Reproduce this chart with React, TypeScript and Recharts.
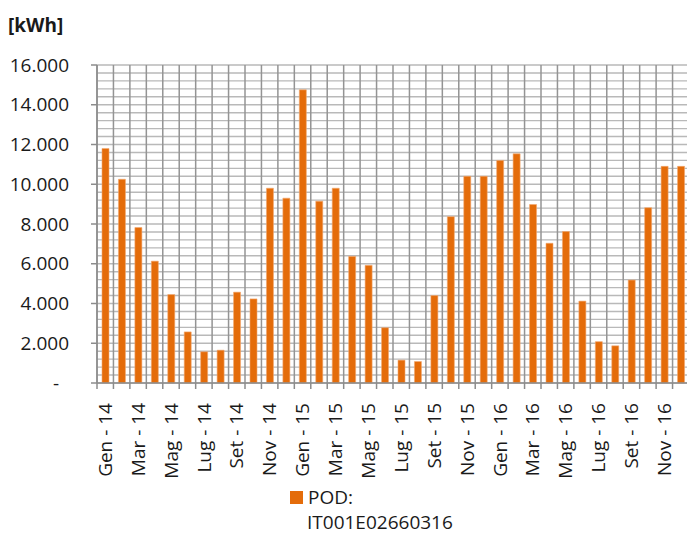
import { BarChart, Bar, XAxis, YAxis, CartesianGrid } from 'recharts';

const monthNames = ['Gen', 'Feb', 'Mar', 'Apr', 'Mag', 'Giu', 'Lug', 'Ago', 'Set', 'Ott', 'Nov', 'Dic'];
const years = ['14', '15', '16'];

const consumption2014 = [11800, 10250, 7820, 6130, 4450, 2570, 1570, 1650, 4570, 4230, 9800, 9300];
const consumption2015 = [14750, 9150, 9800, 6370, 5920, 2780, 1150, 1080, 4400, 8370, 10400, 10400];
const consumption2016 = [11200, 11530, 8980, 7030, 7620, 4120, 2080, 1870, 5180, 8820, 10900, 10900];

const yTicks = [0, 2000, 4000, 6000, 8000, 10000, 12000, 14000, 16000];
const seriesName = 'POD: IT001E02660316';

const allValues = [consumption2014, consumption2015, consumption2016];
const data = years.flatMap((yr, yi) =>
  monthNames.map((m, mi) => ({ month: `${m} - ${yr}`, kwh: allValues[yi][mi] }))
);

// minor horizontal grid every 400 kWh
const gridValues = Array.from({ length: 41 }, (_, i) => i * 400);

const FONT = '"Open Sans", sans-serif';
const TEXT = '#1a1a1a';
const AXIS = '#8c8c8c';
const BAR = '#E46C0A';

const CHART_W = 689;
const CHART_H = 534;
const Y_W = 97;
const X_H = 151;
const PLOT_W = CHART_W - Y_W;

const fmt = (v: number) => (v === 0 ? '-' : v.toLocaleString('de-DE'));

const YTick = ({ x, y, payload }: any) => (
  <text
    x={payload.value === 0 ? x - 30 : x - 20}
    y={y}
    dy="0.35em"
    textAnchor="end"
    fontSize={19}
    fontFamily={FONT}
    fill={TEXT}
  >
    {fmt(payload.value)}
  </text>
);

const XTick = ({ x, y, payload, index }: any) => {
  const bw = PLOT_W / data.length;
  const bx = x - bw / 2;
  const ty = y + 12;
  return (
    <g>
      <line x1={bx} x2={bx} y1={y - 8} y2={y - 2} stroke={AXIS} strokeWidth={1.5} />
      {index % 2 === 0 && (
        <text
          x={x}
          y={ty}
          dy="0.35em"
          textAnchor="end"
          transform={`rotate(-90, ${x}, ${ty})`}
          fontSize={19}
          fontFamily={FONT}
          fill={TEXT}
        >
          {payload.value}
        </text>
      )}
    </g>
  );
};

export default function App() {
  return (
    <div style={{ position: 'absolute', left: 0, top: 0, width: 687, height: 534, overflow: 'hidden', background: '#fff' }}>
      <div
        style={{
          position: 'absolute',
          left: 8,
          top: 12,
          fontFamily: FONT,
          fontWeight: 700,
          fontSize: 19,
          color: TEXT,
        }}
      >
        [kWh]
      </div>
      <BarChart
        width={CHART_W}
        height={CHART_H}
        data={data}
        margin={{ top: 65, right: 0, bottom: 0, left: 0 }}
        barCategoryGap={0}
      >
        <CartesianGrid
          vertical={false}
          horizontalValues={gridValues}
          stroke="#b9b9b9"
          strokeWidth={1.4}
        />
        <CartesianGrid
          horizontal={false}
          verticalCoordinatesGenerator={({ offset }: any) =>
            Array.from({ length: data.length + 1 }, (_, i) => offset.left + (i * offset.width) / data.length)
          }
          stroke="#949494"
          strokeWidth={1.5}
        />
        <XAxis
          dataKey="month"
          interval={0}
          tickLine={false}
          axisLine={{ stroke: AXIS, strokeWidth: 1.5 }}
          tick={<XTick />}
          height={X_H}
        />
        <YAxis
          domain={[0, 16000]}
          ticks={yTicks}
          interval={0}
          width={Y_W}
          tickSize={6}
          tickLine={{ stroke: AXIS, strokeWidth: 1.5 }}
          axisLine={{ stroke: AXIS, strokeWidth: 1.5 }}
          tick={<YTick />}
        />
        <Bar
          dataKey="kwh"
          name={seriesName}
          fill={BAR}
          stroke="#f2a870"
          strokeWidth={0.6}
          barSize={7}
          isAnimationActive={false}
        />
      </BarChart>
      <div
        style={{
          position: 'absolute',
          left: 290,
          top: 484,
          fontFamily: FONT,
          fontSize: 19,
          color: TEXT,
          whiteSpace: 'nowrap',
        }}
      >
        <div style={{ display: 'flex', alignItems: 'center', height: 26, lineHeight: '26px' }}>
          <span style={{ width: 13, height: 13, background: BAR, display: 'inline-block', marginRight: 5 }} />
          <span>POD:</span>
        </div>
        <div style={{ paddingLeft: 17, marginTop: 4, height: 16, lineHeight: '16px' }}>IT001E02660316</div>
      </div>
    </div>
  );
}
